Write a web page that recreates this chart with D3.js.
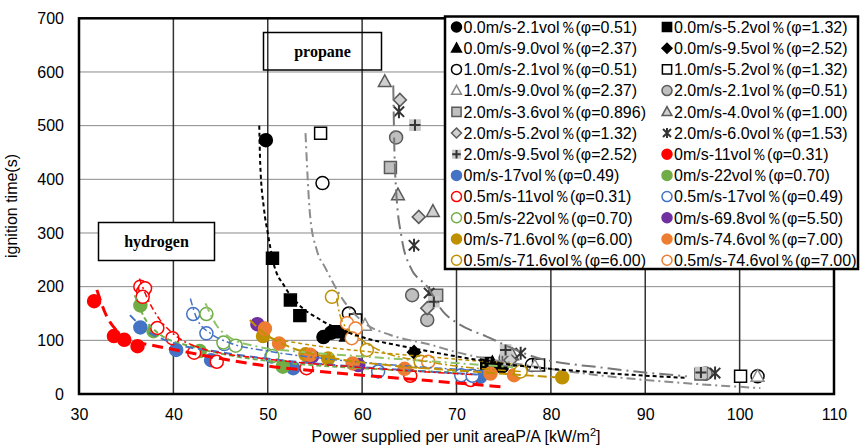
<!DOCTYPE html>
<html><head><meta charset="utf-8">
<script src="https://cdn.jsdelivr.net/npm/d3@7"></script>
<style>
body{margin:0;background:#fff}
svg{display:block;font-family:"Liberation Sans",Arial,sans-serif}
</style>
</head><body>
<svg id="chart" width="861" height="445"></svg>
<script>
// axis ticks
const xTicks = [30, 40, 50, 60, 70, 80, 90, 100, 110];
const yTicks = [0, 100, 200, 300, 400, 500, 600, 700];

// propane runs: [P/A (kW/m2), ignition time (s)]
const pr00_21 = [[49.8,473],[55.9,106],[56.7,114],[74.8,51]];
const pr00_52 = [[50.5,253],[52.4,175],[53.4,146],[57.4,116],[73.2,57]];
const pr00_90 = [[58.3,108],[73.8,58]];
const pr00_95 = [[65.5,78]];
const pr10_21 = [[55.8,393],[58.6,150],[78.0,54],[101.9,33]];
const pr10_52 = [[55.6,486],[59.3,138],[78.7,54],[100.1,33]];
const pr10_90 = [[60.3,128],[78.3,52],[101.9,33]];
const pr20_21 = [[63.6,478],[65.3,184],[66.9,138],[75.2,67],[96.4,38]];
const pr20_36 = [[63.0,422],[67.9,184],[75.5,63],[95.9,37]];
const pr20_40 = [[62.4,582],[63.8,371],[67.5,340],[75.9,73]];
const pr20_52 = [[64.0,548],[66.0,330],[66.9,160],[75.7,63]];
const pr20_60 = [[63.9,526],[65.5,277],[67.1,188],[76.8,76],[97.4,39]];
const pr20_95 = [[65.6,501],[67.6,172],[75.2,82],[95.9,40]];

// hydrogen runs
const h2_0_11   = [[31.6,173],[33.7,108],[34.8,101],[36.2,89]];
const h2_0_17   = [[36.5,124],[40.3,82],[44.0,63],[52.7,48],[72.5,32]];
const h2_0_22   = [[36.5,165],[37.9,117],[42.8,80],[51.6,51]];
const h2_05_11  = [[36.5,200],[36.8,191],[37.0,197],[36.75,181],[38.3,123],[39.9,104],[42.2,77],[44.6,60],[54.1,48],[65.1,34],[71.5,26]];
const h2_05_17  = [[42.1,149],[43.5,113],[45.4,93],[50.4,70],[61.7,42],[70.5,35],[71.7,34]];
const h2_05_22  = [[43.5,149],[45.3,96],[46.6,90],[50.5,71]];
const h2_0_698  = [[48.9,130],[54.7,70],[59.6,54]];
const h2_0_716  = [[49.5,108],[54.0,74],[56.4,66],[81.2,31]];
const h2_0_746  = [[49.7,122],[51.2,94],[54.5,73],[59.0,57],[64.5,47],[73.6,38],[76.1,35]];
const h2_05_716 = [[56.8,181],[60.5,82],[66.2,60],[76.8,42]];
const h2_05_746 = [[58.4,132],[59.3,122],[58.9,104],[67.0,60]];

// fitted trend curves, traced as [P/A, time]
const fitPr00 = [[49.1,500],[49.2,430],[49.6,345],[50.0,300],[50.6,245],[51.8,200],[53.1,170],[55.6,138],[59.8,107],[64,90],[67.2,79],[74.7,57],[85,40],[94.4,30]];
const fitPr10 = [[54.0,486],[54.5,330],[55.2,268],[56.1,235],[58,175],[60.5,129],[63,110],[67.2,92],[70,78],[78,52],[86,33],[94.4,20],[102.2,11]];
const fitPr20 = [[63.3,575],[63.4,470],[63.6,380],[64.2,290],[65.1,237],[66.9,200],[68.6,153],[70.1,132],[73.2,107],[78.1,70],[86,48],[94.4,33]];
const fitH0_11  = [[31.9,194],[32.8,150],[34,118],[35.5,100],[38,90],[40,83],[45,66],[50,52],[55,43],[60,35],[67,25],[75,13]];
const fitH05_11 = [[36.4,215],[37.2,180],[38.5,140],[40,112],[43,85],[50,65],[58,52],[66,42],[72,36]];
const fitH0_17  = [[35.4,147],[37,120],[40,95],[45,78],[52,62],[60,50],[72.5,36]];
const fitH05_17 = [[41.8,178],[42.5,140],[44,112],[46,95],[50,80],[56,66],[62,56],[72,44]];
const fitH0_22  = [[35.9,184],[37,140],[38.5,112],[42,88],[46,72],[52,58],[60,48],[70,40]];
const fitH05_22 = [[43.4,169],[44.5,130],[46,105],[49,88],[54,78],[60,70],[68,60],[76,50]];
const fitH0_716 = [[48.1,138],[49.5,115],[52,90],[56,70],[62,55],[70,44],[81.4,30]];
const fitH05_716= [[57.3,178],[57.6,150],[58,132],[60,100],[62,80],[67,60],[76.8,42]];
const fitH0_746 = [[50.3,104],[55,90],[60,80],[67.2,69],[76,56]];

const GRAY_F = "#bfbfbf", GRAY_S = "#5a5a5a";
const RED = "#ff0000", BLUE = "#4472c4", GREEN = "#70ad47", LGREEN = "#8fc46a",
      PURPLE = "#7030a0", GOLD = "#bf9000", ORANGE = "#ed7d31";

// legend order (row-major, two columns)
const series = [
  {label:"0.0m/s-2.1vol％(φ=0.51)", data:pr00_21, mark:"circle", fill:"#000", stroke:"#000"},
  {label:"0.0m/s-5.2vol％(φ=1.32)", data:pr00_52, mark:"square", fill:"#000", stroke:"#000"},
  {label:"0.0m/s-9.0vol％(φ=2.37)", data:pr00_90, mark:"triangle", fill:"#000", stroke:"#000"},
  {label:"0.0m/s-9.5vol％(φ=2.52)", data:pr00_95, mark:"diamond", fill:"#000", stroke:"#000"},
  {label:"1.0m/s-2.1vol％(φ=0.51)", data:pr10_21, mark:"circle", fill:"#fff", stroke:"#000"},
  {label:"1.0m/s-5.2vol％(φ=1.32)", data:pr10_52, mark:"square", fill:"#fff", stroke:"#000"},
  {label:"1.0m/s-9.0vol％(φ=2.37)", data:pr10_90, mark:"triangle", fill:"#fff", stroke:"#888"},
  {label:"2.0m/s-2.1vol％(φ=0.51)", data:pr20_21, mark:"circle", fill:GRAY_F, stroke:GRAY_S},
  {label:"2.0m/s-3.6vol％(φ=0.896)", data:pr20_36, mark:"square", fill:GRAY_F, stroke:GRAY_S},
  {label:"2.0m/s-4.0vol％(φ=1.00)", data:pr20_40, mark:"triangle", fill:"#d0d0d0", stroke:GRAY_S},
  {label:"2.0m/s-5.2vol％(φ=1.32)", data:pr20_52, mark:"diamond", fill:"#d0d0d0", stroke:GRAY_S},
  {label:"2.0m/s-6.0vol％(φ=1.53)", data:pr20_60, mark:"star", fill:"none", stroke:"#333"},
  {label:"2.0m/s-9.5vol％(φ=2.52)", data:pr20_95, mark:"plusbox", fill:"#c8c8c8", stroke:"#333"},
  {label:"0m/s-11vol％(φ=0.31)", data:h2_0_11, mark:"circle", fill:RED, stroke:RED},
  {label:"0m/s-17vol％(φ=0.49)", data:h2_0_17, mark:"circle", fill:BLUE, stroke:BLUE},
  {label:"0m/s-22vol％(φ=0.70)", data:h2_0_22, mark:"circle", fill:GREEN, stroke:GREEN},
  {label:"0.5m/s-11vol％(φ=0.31)", data:h2_05_11, mark:"circle", fill:"#fff", stroke:RED},
  {label:"0.5m/s-17vol％(φ=0.49)", data:h2_05_17, mark:"circle", fill:"#fff", stroke:BLUE},
  {label:"0.5m/s-22vol％(φ=0.70)", data:h2_05_22, mark:"circle", fill:"#fff", stroke:GREEN},
  {label:"0m/s-69.8vol％(φ=5.50)", data:h2_0_698, mark:"circle", fill:PURPLE, stroke:PURPLE},
  {label:"0m/s-71.6vol％(φ=6.00)", data:h2_0_716, mark:"circle", fill:GOLD, stroke:GOLD},
  {label:"0m/s-74.6vol％(φ=7.00)", data:h2_0_746, mark:"circle", fill:ORANGE, stroke:ORANGE},
  {label:"0.5m/s-71.6vol％(φ=6.00)", data:h2_05_716, mark:"circle", fill:"#fff", stroke:GOLD},
  {label:"0.5m/s-74.6vol％(φ=7.00)", data:h2_05_746, mark:"circle", fill:"#fff", stroke:ORANGE}
];

const fits = [
  {data:fitH0_22,  color:GREEN,  width:2,   dash:"5,3"},
  {data:fitH05_22, color:LGREEN, width:2,   dash:"9,4,2,4"},
  {data:fitH0_17,  color:BLUE,   width:2,   dash:"8,5"},
  {data:fitH05_17, color:BLUE,   width:1.5, dash:"7,3,2,3"},
  {data:fitH05_11, color:RED,    width:1.5, dash:"6,3,2,3"},
  {data:fitH0_746, color:GOLD,   width:1.5, dash:"4,3"},
  {data:fitH0_716, color:GOLD,   width:2,   dash:"9,4"},
  {data:fitH05_716,color:GOLD,   width:1.5, dash:"8,3,2,3"},
  {data:fitH0_11,  color:RED,    width:3,   dash:"11,6"},
  {data:fitPr10,   color:"#8c8c8c", width:2, dash:"9,4,2,4"},
  {data:fitPr20,   color:"#777",    width:2, dash:"14,5,2,5"},
  {data:fitPr00,   color:"#000",    width:2, dash:"4,3"}
];

const svg = d3.select("#chart");
const x = d3.scaleLinear().domain([30, 110]).range([79, 834]);
const y = d3.scaleLinear().domain([0, 700]).range([394, 18.3]);

// grid
svg.append("g").selectAll("line").data(yTicks.slice(1, -1)).join("line")
  .attr("x1", x(30)).attr("x2", x(110)).attr("y1", d => y(d)).attr("y2", d => y(d))
  .attr("stroke", "#8a8a8a").attr("stroke-width", 1);
svg.append("g").selectAll("line").data(xTicks.slice(1, -1)).join("line")
  .attr("y1", y(0)).attr("y2", y(700)).attr("x1", d => x(d)).attr("x2", d => x(d))
  .attr("stroke", "#333").attr("stroke-width", 1.5);

// axes
const gx = svg.append("g").attr("transform", `translate(0,${y(0)})`)
  .call(d3.axisBottom(x).tickValues(xTicks).tickSize(0).tickPadding(14.5));
const gy = svg.append("g").attr("transform", `translate(${x(30)},0)`)
  .call(d3.axisLeft(y).tickValues(yTicks).tickSize(0).tickPadding(15));
[gx, gy].forEach(g => {
  g.select(".domain").remove();
  g.selectAll("text").attr("font-size", 16).attr("fill", "#000")
    .attr("font-family", '"Liberation Sans",Arial,sans-serif');
});

// marker shapes
function shapePath(kind, r) {
  const p = d3.path();
  switch (kind) {
    case "circle": p.arc(0, 0, r, 0, 2 * Math.PI); p.closePath(); break;
    case "square": p.rect(-r * 0.92, -r * 0.92, r * 1.84, r * 1.84); break;
    case "triangle": p.moveTo(0, -r * 1.05); p.lineTo(r * 0.98, r * 0.75); p.lineTo(-r * 0.98, r * 0.75); p.closePath(); break;
    case "diamond": p.moveTo(0, -r); p.lineTo(r, 0); p.lineTo(0, r); p.lineTo(-r, 0); p.closePath(); break;
    case "star":
      p.moveTo(-r * 0.8, -r * 0.8); p.lineTo(r * 0.8, r * 0.8);
      p.moveTo(-r * 0.8, r * 0.8); p.lineTo(r * 0.8, -r * 0.8);
      p.moveTo(0, -r); p.lineTo(0, r); break;
    case "plus":
      p.moveTo(-r, 0); p.lineTo(r, 0); p.moveTo(0, -r); p.lineTo(0, r); break;
  }
  return p.toString();
}
function drawMark(g, s, r) {
  if (s.mark === "plusbox") {
    g.append("rect").attr("x", -r * 0.9).attr("y", -r * 0.9).attr("width", r * 1.8).attr("height", r * 1.8)
      .attr("fill", s.fill);
    g.append("path").attr("d", shapePath("plus", r * 0.85)).attr("stroke", s.stroke)
      .attr("stroke-width", 2).attr("fill", "none");
  } else if (s.mark === "star") {
    g.append("path").attr("d", shapePath("star", r)).attr("stroke", s.stroke)
      .attr("stroke-width", 2).attr("fill", "none");
  } else {
    g.append("path").attr("d", shapePath(s.mark, r)).attr("fill", s.fill)
      .attr("stroke", s.stroke).attr("stroke-width", 1.5);
  }
}

// data points
const marks = svg.append("g");
series.forEach(s => {
  s.data.forEach(d => {
    const g = marks.append("g").attr("transform", `translate(${x(d[0])},${y(d[1])})`);
    drawMark(g, s, 6.5);
  });
});

// trend curves
const line = d3.line().x(d => x(d[0])).y(d => y(d[1])).curve(d3.curveMonotoneX);
svg.append("g").selectAll("path").data(fits).join("path")
  .attr("d", f => line(f.data)).attr("fill", "none")
  .attr("stroke", f => f.color).attr("stroke-width", f => f.width)
  .attr("stroke-dasharray", f => f.dash);

// plot frame
svg.append("rect").attr("x", x(30)).attr("y", y(700))
  .attr("width", x(110) - x(30)).attr("height", y(0) - y(700))
  .attr("fill", "none").attr("stroke", "#000").attr("stroke-width", 2.5);

// fuel boxes
svg.append("rect").attr("x", 263.5).attr("y", 32.5).attr("width", 118).attr("height", 37.5)
  .attr("fill", "none").attr("stroke", "#000").attr("stroke-width", 1.5);
svg.append("text").attr("x", 322.5).attr("y", 57).attr("text-anchor", "middle")
  .attr("font-family", '"Liberation Serif","Times New Roman",serif').attr("font-weight", "bold")
  .attr("font-size", 16).text("propane");
svg.append("rect").attr("x", 98.5).attr("y", 222.5).attr("width", 116).attr("height", 38)
  .attr("fill", "#fff").attr("stroke", "#000").attr("stroke-width", 1.5);
svg.append("text").attr("x", 156.5).attr("y", 247).attr("text-anchor", "middle")
  .attr("font-family", '"Liberation Serif","Times New Roman",serif').attr("font-weight", "bold")
  .attr("font-size", 16).text("hydrogen");

// legend
const lg = svg.append("g");
lg.append("rect").attr("x", 445).attr("y", 16.5).attr("width", 413).attr("height", 252.5)
  .attr("fill", "#fff").attr("stroke", "#000").attr("stroke-width", 2.5);
series.forEach((s, i) => {
  const col = i % 2, row = Math.floor(i / 2);
  const cy = 27 + row * 21.2;
  const mx = col === 0 ? 456.5 : 667;
  const g = lg.append("g").attr("transform", `translate(${mx},${cy})`);
  drawMark(g, s, 5);
  lg.append("text").attr("x", mx + 7).attr("y", cy + 5.8).attr("font-size", 16)
    .attr("fill", "#000").text(s.label);
});

// axis titles
svg.append("text").attr("x", 456).attr("y", 442).attr("text-anchor", "middle")
  .attr("font-size", 16).attr("fill", "#000")
  .html('Power supplied per unit areaP/A [kW/m<tspan font-size="11" dy="-6">2</tspan><tspan dy="6">]</tspan>');
svg.append("text").attr("transform", "translate(17,206) rotate(-90)").attr("text-anchor", "middle")
  .attr("font-size", 16).attr("fill", "#000").text("ignition time(s)");
</script>
</body></html>
